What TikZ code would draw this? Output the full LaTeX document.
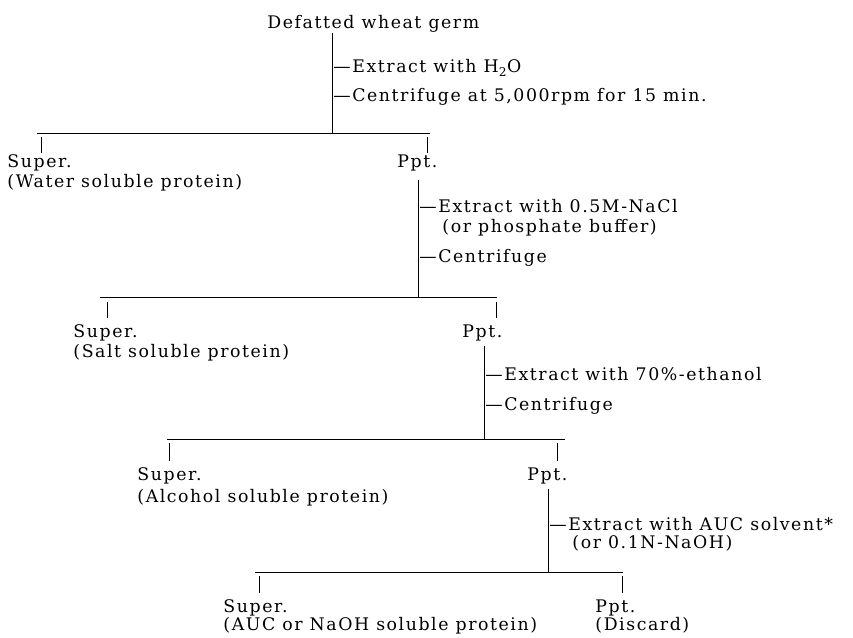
\documentclass[tikz,border=0pt]{standalone}
\usepackage{fontspec}
\setmainfont{DejaVu Serif}[LetterSpace=9]
\begin{document}
\begin{tikzpicture}[x=0.75pt,y=-0.75pt,line width=0.7pt,
  lbl/.style={inner sep=0pt,anchor=base west,font=\fontsize{13}{15}\selectfont}]
\useasboundingbox (0,0) rectangle (853,638);

% starting material and first extraction
\node[lbl] (germ) at (267,29) {Defatted wheat germ};
\node[lbl] (stpA) at (333,73) {---Extract with H\textsubscript{2}O};
\node[lbl] (stpB) at (333,102) {---Centrifuge at 5,000rpm for 15 min.};
\coordinate (trA) at (332,133);
\coordinate (barAl) at (37,133);
\coordinate (barAr) at (430,133);
\draw (germ.south -| trA) -- (trA);
\draw (barAl) -- (barAr);

\node[lbl] (supA) at (7,168) {Super.};
\node[lbl] (supAt) at (7,188) {(Water soluble protein)};
\node[lbl] (pptA) at (397,168) {Ppt.};
\coordinate (tkAl) at (41,137);
\coordinate (tkAr) at (427,137);
\draw (tkAl) -- (tkAl |- 0,153);
\draw (tkAr) -- (tkAr |- 0,153);

% salt extraction
\node[lbl] (stpC) at (419,213) {---Extract with 0.5M-NaCl};
\node[lbl] (stpCt) at (442,233) {(or phosphate buffer)};
\node[lbl] (stpD) at (419,262) {---Centrifuge};
\coordinate (trB) at (418,297);
\coordinate (barBl) at (100,297);
\coordinate (barBr) at (497,297);
\draw[shorten <=6] (pptA.south -| trB) -- (trB);
\draw (barBl) -- (barBr);

\node[lbl] (supB) at (73,337) {Super.};
\node[lbl] (supBt) at (73,357) {(Salt soluble protein)};
\node[lbl] (pptB) at (462,337) {Ppt.};
\coordinate (tkBl) at (107,302);
\coordinate (tkBr) at (496,302);
\draw (tkBl) -- (tkBl |- 0,318);
\draw (tkBr) -- (tkBr |- 0,318);

% ethanol extraction
\node[lbl] (stpE) at (485,380) {---Extract with 70\%-ethanol};
\node[lbl] (stpF) at (485,410) {---Centrifuge};
\coordinate (trC) at (484,439);
\coordinate (barCl) at (167,439);
\coordinate (barCr) at (565,439);
\draw[shorten <=4] (pptB.south -| trC) -- (trC);
\draw (barCl) -- (barCr);

\node[lbl] (supC) at (137,480) {Super.};
\node[lbl] (supCt) at (137,502) {(Alcohol soluble protein)};
\node[lbl] (pptC) at (527,480) {Ppt.};
\coordinate (tkCl) at (169,443);
\coordinate (tkCr) at (557,443);
\draw (tkCl) -- (tkCl |- 0,461);
\draw (tkCr) -- (tkCr |- 0,461);

% AUC extraction
\node[lbl] (stpG) at (549,530) {---Extract with AUC solvent*};
\node[lbl] (stpGt) at (572,548) {(or 0.1N-NaOH)};
\coordinate (trD) at (548,572);
\coordinate (barDl) at (255,572);
\coordinate (barDr) at (623,572);
\draw[shorten <=4] (pptC.south -| trD) -- (trD);
\draw (barDl) -- (barDr);

\node[lbl] (supD) at (223,612) {Super.};
\node[lbl] (supDt) at (223,630) {(AUC or NaOH soluble protein)};
\node[lbl] (pptD) at (595,612) {Ppt.};
\node[lbl] (pptDt) at (595,630) {(Discard)};
\coordinate (tkDl) at (259,576);
\coordinate (tkDr) at (622,576);
\draw (tkDl) -- (tkDl |- 0,593);
\draw (tkDr) -- (tkDr |- 0,593);

\end{tikzpicture}
\end{document}
